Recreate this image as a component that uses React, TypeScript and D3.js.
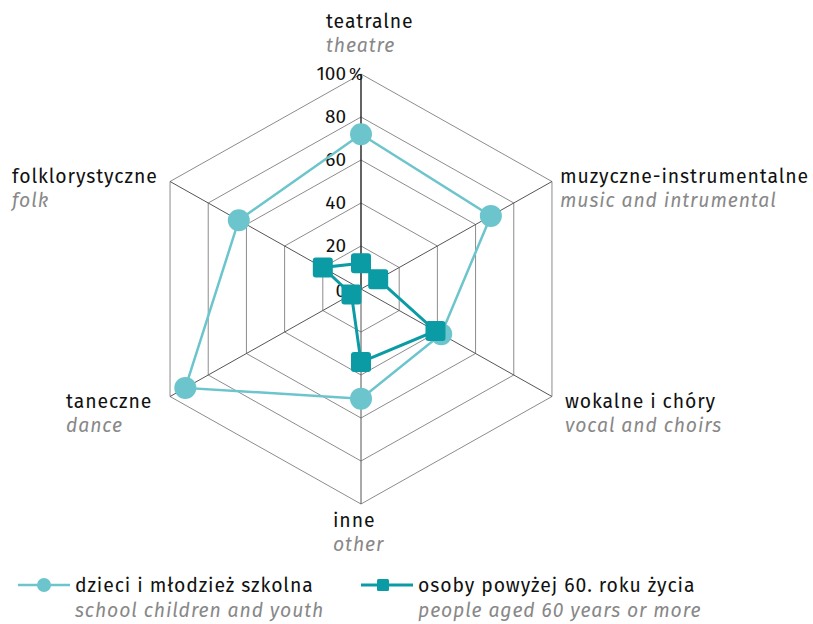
import React from 'react';
import * as d3 from 'd3';

const categories = ['teatralne', 'muzyczne-instrumentalne', 'wokalne i chóry', 'inne', 'taneczne', 'folklorystyczne'];
const categoriesEn = ['theatre', 'music and intrumental', 'vocal and choirs', 'other', 'dance', 'folk'];
const children = [72, 68, 42, 51, 92, 64];
const seniors = [12, 9, 39, 34, 5, 20];
const ticks = [0, 20, 40, 60, 80, 100];
const seriesNames = ['dzieci i młodzież szkolna', 'osoby powyżej 60. roku życia'];
const seriesNamesEn = ['school children and youth', 'people aged 60 years or more'];

const W = 813;
const H = 624;
const cx = 361;
const cy = 289;
const FONT = '"Fira Sans", "Noto Sans", sans-serif';
const C_CHILD = '#6cc5cc';
const C_SENIOR = '#0a9ba5';
const LS = 0.9;
const FS = 19.4;

// label placement per axis (anchor position)
const labelPos: [number, number][] = [
    [326, 28],
    [560, 183],
    [565, 408],
    [333, 527],
    [66, 408],
    [12, 183],
];

export default function App() {
    const ry = d3.scaleLinear().domain([0, 100]).range([0, 215]);
    const rx = d3.scaleLinear().domain([0, 100]).range([0, 220.5]);
    const angle = d3.scaleLinear().domain([0, categories.length]).range([0, 2 * Math.PI]);

    const pt = (i: number, v: number): [number, number] => {
        const a = angle(i);
        return [cx + rx(v) * Math.sin(a), cy - ry(v) * Math.cos(a)];
    };

    const line = d3.line<[number, number]>().curve(d3.curveLinearClosed);
    const ringPath = (v: number) => line(categories.map((_, i) => pt(i, v)));
    const seriesPts = (vals: number[]) => vals.map((v, i) => pt(i, v));

    const childPts = seriesPts(children);
    const seniorPts = seriesPts(seniors);

    return (
        <svg width={W} height={H} style={{ position: 'absolute', left: 0, top: 0 }} fontFamily={FONT}>
            <rect width={W} height={H} fill="#fff" />
            {/* grid rings */}
            {ticks.slice(1).map(t => (
                <path key={t} d={ringPath(t) || ''} fill="none" stroke="#8c8c8c" strokeWidth={1} />
            ))}
            {/* spokes */}
            {categories.map((c, i) => {
                const [x, y] = pt(i, 100);
                return <line key={c} x1={cx} y1={cy} x2={x} y2={y} stroke={i === 0 ? '#222' : '#555'} strokeWidth={i === 0 ? 1.4 : 1} />;
            })}
            {/* tick labels */}
            {ticks.map(t => (
                <text key={t} x={cx - 15} y={cy - ry(t) + (t === 0 ? 8 : 6)} textAnchor="end" fontSize={19} fill="#111">
                    {t}
                </text>
            ))}
            <text x={cx - 12} y={cy - ry(100) + 6} fontSize={17} fill="#111">%</text>

            {/* children series */}
            <path d={d3.line()(childPts.concat([childPts[0]])) || ''} fill="none" stroke={C_CHILD} strokeWidth={2.5} />
            {childPts.map(([x, y], i) => (
                <circle key={i} cx={x} cy={y} r={11} fill={C_CHILD} />
            ))}

            {/* seniors series */}
            <path d={d3.line()(seniorPts.concat([seniorPts[0]])) || ''} fill="none" stroke={C_SENIOR} strokeWidth={3} />
            {seniorPts.map(([x, y], i) => (
                <rect key={i} x={x - 10} y={y - 10} width={20} height={20} rx={3} fill={C_SENIOR} />
            ))}

            {/* axis labels */}
            {categories.map((c, i) => (
                <g key={c} letterSpacing={LS}>
                    <text x={labelPos[i][0]} y={labelPos[i][1]} fontSize={FS} fill="#111">{c}</text>
                    <text x={labelPos[i][0]} y={labelPos[i][1] + 24} fontSize={FS} fill="#888" fontStyle="italic">{categoriesEn[i]}</text>
                </g>
            ))}

            {/* legend */}
            <g letterSpacing={LS}>
                <line x1={18} x2={70} y1={585} y2={585} stroke={C_CHILD} strokeWidth={2.5} />
                <circle cx={44} cy={585} r={7} fill={C_CHILD} />
                <text x={75} y={592} fontSize={FS} fill="#111">{seriesNames[0]}</text>
                <text x={75} y={617} fontSize={FS} fill="#888" fontStyle="italic">{seriesNamesEn[0]}</text>

                <line x1={361} x2={413} y1={585} y2={585} stroke={C_SENIOR} strokeWidth={3} />
                <rect x={377} y={579} width={12} height={12} rx={1.5} fill={C_SENIOR} />
                <text x={418} y={592} fontSize={FS} fill="#111">{seriesNames[1]}</text>
                <text x={418} y={617} fontSize={FS} fill="#888" fontStyle="italic">{seriesNamesEn[1]}</text>
            </g>
        </svg>
    );
}
